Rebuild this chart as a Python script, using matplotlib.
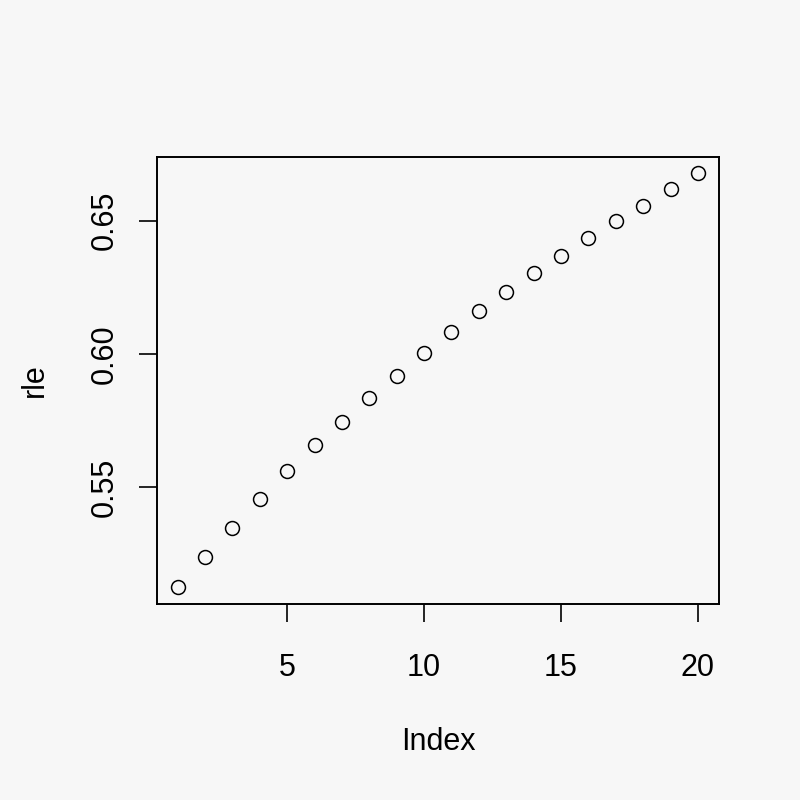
import matplotlib
matplotlib.use('Agg')
import matplotlib.pyplot as plt
import numpy as np

# values
index = np.arange(1, 21)
rle = [0.5124, 0.5237, 0.5346, 0.5455, 0.5560, 0.5658, 0.5744, 0.5835, 0.5917, 0.6004,
       0.6083, 0.6162, 0.6233, 0.6305, 0.6368, 0.6436, 0.6500, 0.6556, 0.6620, 0.6677]
xticks = [5, 10, 15, 20]
yticks = [0.55, 0.60, 0.65]
ytick_labels = ['0.55', '0.60', '0.65']

plt.rcParams['font.family'] = ['Liberation Sans', 'DejaVu Sans']

bg = '#f7f7f7'
fig = plt.figure(figsize=(8, 8), dpi=100, facecolor=bg)
ax = fig.add_axes([0.196, 0.245, 0.7025, 0.559], facecolor=bg)

ax.plot(index, rle, linestyle='none', marker='o', markersize=10,
        markerfacecolor='none', markeredgecolor='black', markeredgewidth=1.1)

# R style 4% padding
xr = index[-1] - index[0]
ax.set_xlim(index[0] - 0.04 * xr, index[-1] + 0.04 * xr)
yr = max(rle) - min(rle)
ax.set_ylim(min(rle) - 0.04 * yr, max(rle) + 0.04 * yr)

ax.set_xticks(xticks)
ax.set_xticklabels([str(t) for t in xticks])
ax.set_yticks(yticks)
ax.set_yticklabels(ytick_labels, rotation=90, va='center')
ax.tick_params(direction='out', length=13, width=1.2, labelsize=22)
ax.tick_params(axis='x', pad=22)
ax.tick_params(axis='y', pad=14)

for s in ax.spines.values():
    s.set_linewidth(1.4)

fig.text(438 / 800, 1 - 742 / 800, 'Index', ha='center', va='center', fontsize=22)
fig.text(35 / 800, 1 - 380 / 800, 'rle', ha='center', va='center', fontsize=22, rotation=90)

fig.savefig('out.png', dpi=100, facecolor=bg)
